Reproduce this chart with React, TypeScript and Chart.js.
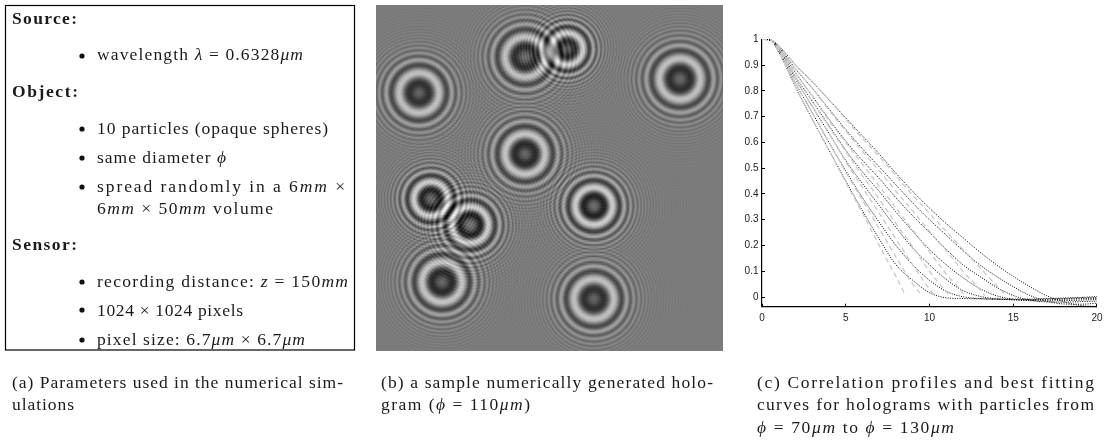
import React, { useEffect, useRef } from "react";
import { Chart, registerables } from "chart.js";

Chart.register(...registerables);

// ---------- panel (c): correlation profiles ----------
const xGrid = [0, 0.5, 1, 2, 3, 4, 5, 6, 7, 8, 9, 10, 11, 12, 13, 14, 15, 16, 17, 18, 19, 20];
const profile70 = [1, 0.996, 0.95, 0.815, 0.69, 0.57, 0.45, 0.335, 0.225, 0.125, 0.065, 0.017, -0.003, -0.006, -0.007, -0.008, -0.008, -0.008, -0.006, -0.004, -0.002, 0.002];
const profile80 = [1, 0.996, 0.955, 0.83, 0.715, 0.6, 0.49, 0.385, 0.29, 0.2, 0.125, 0.065, 0.022, 0.001, -0.006, -0.009, -0.01, -0.01, -0.008, -0.006, -0.004, -0.002];
const profile90 = [1, 0.997, 0.96, 0.845, 0.74, 0.635, 0.53, 0.44, 0.355, 0.27, 0.19, 0.125, 0.068, 0.025, 0.003, -0.007, -0.011, -0.012, -0.011, -0.009, -0.007, -0.006];
const profile100 = [1, 0.997, 0.965, 0.855, 0.76, 0.665, 0.57, 0.485, 0.41, 0.33, 0.255, 0.185, 0.125, 0.075, 0.033, 0.005, -0.009, -0.014, -0.015, -0.014, -0.012, -0.01];
const profile110 = [1, 0.998, 0.97, 0.87, 0.78, 0.69, 0.605, 0.53, 0.46, 0.385, 0.315, 0.25, 0.185, 0.125, 0.08, 0.038, 0.006, -0.012, -0.019, -0.02, -0.018, -0.016];
const profile120 = [1, 0.998, 0.972, 0.885, 0.81, 0.73, 0.65, 0.575, 0.505, 0.435, 0.365, 0.3, 0.24, 0.18, 0.125, 0.08, 0.04, 0.006, -0.016, -0.027, -0.028, -0.024];
const profile130 = [1, 0.998, 0.975, 0.9, 0.835, 0.765, 0.695, 0.625, 0.555, 0.48, 0.41, 0.345, 0.285, 0.23, 0.175, 0.125, 0.08, 0.04, 0.005, -0.018, -0.033, -0.037];
const profiles = [profile70, profile80, profile90, profile100, profile110, profile120, profile130];

const fit70 = [1, 0.996, 0.95, 0.815, 0.69, 0.57, 0.445, 0.325, 0.2, 0.08];
const fit80 = [1, 0.996, 0.955, 0.83, 0.715, 0.6, 0.485, 0.375, 0.265, 0.155, 0.05];
const fit90 = [1, 0.997, 0.96, 0.845, 0.74, 0.635, 0.525, 0.425, 0.325, 0.225, 0.125, 0.03];
const fit100 = [1, 0.997, 0.965, 0.855, 0.76, 0.66, 0.565, 0.47, 0.38, 0.285, 0.195, 0.1, 0.02];
const fit110 = [1, 0.998, 0.97, 0.87, 0.78, 0.685, 0.6, 0.515, 0.43, 0.345, 0.26, 0.175, 0.09, 0.015];
const fit120 = [1, 0.998, 0.972, 0.885, 0.81, 0.725, 0.645, 0.565, 0.49, 0.41, 0.335, 0.255, 0.18, 0.1, 0.03];
const fit130 = [1, 0.998, 0.975, 0.9, 0.835, 0.765, 0.69, 0.615, 0.545, 0.47, 0.395, 0.325, 0.255, 0.185, 0.115, 0.045];
const fits = [fit70, fit80, fit90, fit100, fit110, fit120, fit130];
const fitEndX = [8.5, 9.5, 10.3, 11.2, 12.1, 13.3, 14.6];
const fitEndY = [0.015, 0.01, 0.005, 0.005, 0.005, 0.005, 0.005];

const xTicks = [0, 5, 10, 15, 20];
const yTicks = [0, 0.1, 0.2, 0.3, 0.4, 0.5, 0.6, 0.7, 0.8, 0.9, 1];

// ---------- panel (b): particles on the 1024 x 1024 sensor ----------
const particleX = [127, 440, 564, 897, 440, 162, 278, 643, 195, 643];
const particleY = [260, 154, 130, 219, 441, 574, 651, 595, 820, 870];
const ringRadius = [20, 20, 16, 20.5, 20, 17, 18, 18.5, 20, 20];
const ringPeriod = [650, 600, 430, 650, 620, 430, 450, 500, 620, 640];
const ringContrast = [0.85, 0.85, 1, 0.85, 0.9, 1, 1, 1, 0.9, 0.85];

const hologramPlugin = {
  id: "hologram",
  beforeDatasetsDraw(chart: any) {
    const { ctx, chartArea, scales } = chart;
    const w = Math.round(chartArea.right - chartArea.left);
    const h = Math.round(chartArea.bottom - chartArea.top);
    const ss = 2;
    const off = document.createElement("canvas");
    off.width = w * ss;
    off.height = h * ss;
    const octx = off.getContext("2d")!;
    const img = octx.createImageData(off.width, off.height);
    const cx = particleX.map((v) => scales.x.getPixelForValue(v) - chartArea.left);
    const cy = particleY.map((v) => scales.y.getPixelForValue(v) - chartArea.top);
    for (let j = 0; j < off.height; j++) {
      for (let i = 0; i < off.width; i++) {
        const px = (i + 0.5) / ss;
        const py = (j + 0.5) / ss;
        let v = 0;
        for (let k = 0; k < cx.length; k++) {
          const dx = px - cx[k];
          const dy = py - cy[k];
          const r2 = dx * dx + dy * dy;
          const r = Math.sqrt(r2);
          const rb = ringRadius[k];
          // fringes tighten with distance, then settle at a fine pitch of about 3px
          const H = 14000 * Math.pow(rb / 20, 3);
          const rKnee = rb * 2.75;
          let phase: number;
          if (r < rb) {
            phase = (2 * Math.PI * (r2 - rb * rb)) / ringPeriod[k];
          } else if (r < rKnee) {
            phase = (Math.PI * (r2 * r - rb * rb * rb)) / H;
          } else {
            const atKnee = (Math.PI * (rKnee * rKnee * rKnee - rb * rb * rb)) / H;
            phase = atKnee + (2 * Math.PI * (r - rKnee)) / 3;
          }
          const env =
            (1 - 0.65 * Math.exp(-r2 / 40)) / (1 + Math.pow(r / (rb * 1.55), 4)) +
            0.035 * Math.exp(-r / 90);
          v += ringContrast[k] * env * Math.cos(phase);
        }
        const g = Math.max(0, Math.min(255, 123 + 92 * v));
        const p = (j * off.width + i) * 4;
        img.data[p] = g;
        img.data[p + 1] = g;
        img.data[p + 2] = g;
        img.data[p + 3] = 255;
      }
    }
    octx.putImageData(img, 0, 0);
    ctx.save();
    ctx.imageSmoothingEnabled = true;
    ctx.imageSmoothingQuality = "high";
    ctx.drawImage(off, chartArea.left, chartArea.top, w, h);
    ctx.restore();
  },
};

function HologramChart() {
  const ref = useRef<HTMLCanvasElement>(null);
  useEffect(() => {
    const chart = new Chart(ref.current!, {
      type: "scatter",
      data: {
        datasets: [
          {
            label: "particles",
            data: particleX.map((x, i) => ({ x, y: particleY[i] })),
            pointRadius: 0,
          },
        ],
      },
      options: {
        animation: false,
        responsive: false,
        layout: { padding: 0 },
        plugins: { legend: { display: false }, tooltip: { enabled: false } },
        scales: {
          x: { type: "linear", min: 0, max: 1024, display: false },
          y: { type: "linear", min: 0, max: 1024, reverse: true, display: false },
        },
      },
      plugins: [hologramPlugin],
    } as any);
    return () => chart.destroy();
  }, []);
  return (
    <canvas
      ref={ref}
      width={347}
      height={346}
      style={{ position: "absolute", left: 376, top: 5, width: 347, height: 346 }}
    />
  );
}

function ProfileChart() {
  const ref = useRef<HTMLCanvasElement>(null);
  useEffect(() => {
    const fitSets = fits.map((f, k) => ({
      label: "fit " + k,
      data: [
        ...f.map((y, i) => ({ x: xGrid[i], y })),
        { x: fitEndX[k], y: fitEndY[k] },
      ],
      borderColor: "#c8c8c8",
      borderWidth: 1.3,
      borderDash: [5, 3.5],
      pointRadius: 0,
      cubicInterpolationMode: "monotone",
    }));
    const profileSets = profiles.map((p, k) => ({
      label: "profile " + k,
      data: p.map((y, i) => ({ x: xGrid[i], y })),
      borderColor: "#000000",
      borderWidth: 1,
      borderDash: [1, 1.4],
      pointRadius: 0,
      cubicInterpolationMode: "monotone",
    }));
    const font = { family: "'Liberation Sans', Arial, sans-serif", size: 10 };
    const chart = new Chart(ref.current!, {
      type: "line",
      data: { datasets: [...fitSets, ...profileSets] },
      options: {
        animation: false,
        responsive: false,
        layout: { padding: { top: 14.3, right: 9, left: 0, bottom: 0 } },
        plugins: { legend: { display: false }, tooltip: { enabled: false } },
        scales: {
          x: {
            type: "linear",
            min: 0,
            max: 20,
            afterFit: (s: any) => {
              s.height = 18.3;
            },
            afterBuildTicks: (s: any) => {
              s.ticks = xTicks.map((value) => ({ value }));
            },
            grid: { drawOnChartArea: false, tickLength: -3, color: "#000", lineWidth: 1 },
            border: { color: "#000", width: 1.2 },
            ticks: { font, color: "#222", padding: 8.5, maxRotation: 0, callback: (v: any) => String(v) },
          },
          y: {
            type: "linear",
            min: -0.0376,
            max: 1,
            afterFit: (s: any) => {
              s.width = 22;
            },
            afterBuildTicks: (s: any) => {
              s.ticks = yTicks.map((value) => ({ value }));
            },
            grid: { drawOnChartArea: false, tickLength: -3, color: "#000", lineWidth: 1 },
            border: { color: "#000", width: 1.2 },
            ticks: { font, color: "#222", padding: 6.5, callback: (v: any) => String(v) },
          },
        },
      },
    } as any);
    return () => chart.destroy();
  }, []);
  return (
    <canvas
      ref={ref}
      width={371}
      height={300}
      style={{ position: "absolute", left: 740, top: 25, width: 371, height: 300, filter: "blur(0.3px)" }}
    />
  );
}

// ---------- text ----------
const I = ({ children }: any) => <tspan fontStyle="italic">{children}</tspan>;

function T({ x, y, right, bold, size = 17.5, children }: any) {
  return (
    <text
      x={x}
      y={y}
      textLength={right - x}
      lengthAdjust="spacing"
      fontWeight={bold ? 700 : 400}
      fontSize={size}
    >
      {children}
    </text>
  );
}

const bulletX = 82;
const bulletYs = [56, 129, 158, 187, 282, 310, 340];

export default function App() {
  return (
    <div style={{ position: "absolute", left: 0, top: 0, width: 1111, height: 440, overflow: "hidden", background: "#fff" }}>
      <HologramChart />
      <ProfileChart />
      <svg
        width={1111}
        height={440}
        style={{ position: "absolute", left: 0, top: 0, filter: "blur(0.3px)" }}
        fontFamily="'Liberation Serif', serif"
        fill="#1a1a1a"
      >
        <rect x={5.5} y={5.5} width={349} height={344.5} fill="none" stroke="#000" strokeWidth={1.2} />
        {bulletYs.map((y) => (
          <circle key={y} cx={bulletX} cy={y} r={2.6} fill="#111" />
        ))}
        <T x={12} y={23.5} right={77} bold>Source:</T>
        <T x={97} y={60} right={303}>wavelength <I>λ</I> = 0.6328<I>μm</I></T>
        <T x={12} y={97} right={78} bold>Object:</T>
        <T x={97} y={134} right={328}>10 particles (opaque spheres)</T>
        <T x={97} y={163} right={226}>same diameter <I>ϕ</I></T>
        <T x={97} y={192} right={345}>spread randomly in a 6<I>mm</I> ×</T>
        <T x={97} y={213.5} right={273}>6<I>mm</I> × 50<I>mm</I> volume</T>
        <T x={12} y={249.5} right={77} bold>Sensor:</T>
        <T x={97} y={287} right={348}>recording distance: <I>z</I> = 150<I>mm</I></T>
        <T x={97} y={315.5} right={243}>1024 × 1024 pixels</T>
        <T x={97} y={345} right={305}>pixel size: 6.7<I>μm</I> × 6.7<I>μm</I></T>
        <T x={12} y={388} right={343}>(a) Parameters used in the numerical sim-</T>
        <T x={12} y={410} right={74}>ulations</T>
        <T x={381} y={388} right={713}>(b) a sample numerically generated holo-</T>
        <T x={381} y={410} right={530}>gram (<I>ϕ</I> = 110<I>μm</I>)</T>
        <T x={757} y={388} right={1094}>(c) Correlation profiles and best fitting</T>
        <T x={757} y={410} right={1094}>curves for holograms with particles from</T>
        <T x={757} y={432.5} right={954}><I>ϕ</I> = 70<I>μm</I> to <I>ϕ</I> = 130<I>μm</I></T>
      </svg>
    </div>
  );
}
